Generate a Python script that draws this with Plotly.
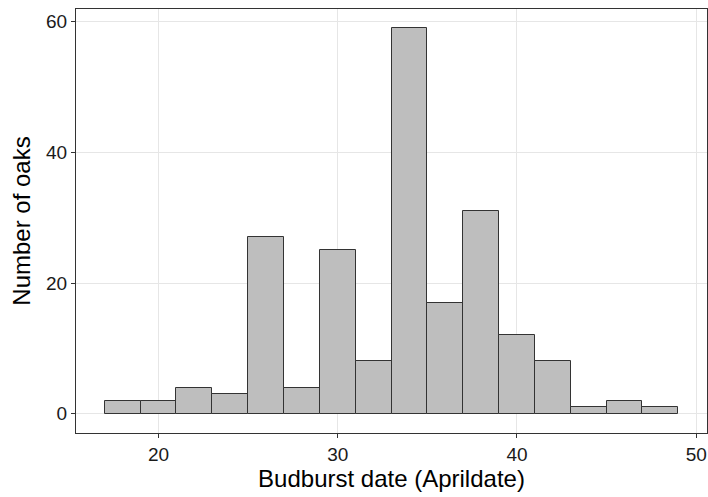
import plotly.graph_objects as go

bin_starts = [17, 19, 21, 23, 25, 27, 29, 31, 33, 35, 37, 39, 41, 43, 45, 47]
bin_width = 2
counts = [2, 2, 4, 3, 27, 4, 25, 8, 59, 17, 31, 12, 8, 1, 2, 1]
x_ticks = [20, 30, 40, 50]
y_ticks = [0, 20, 40, 60]

centers = [s + bin_width / 2 for s in bin_starts]

fig = go.Figure(go.Bar(
    x=centers, y=counts, width=[bin_width] * len(centers),
    marker=dict(color="#BEBEBE", line=dict(color="#333333", width=1)),
    hoverinfo="x+y",
))

font = "Liberation Sans, Arial, sans-serif"
fig.update_layout(
    width=708, height=497,
    margin=dict(l=76, r=1, t=9, b=64),
    plot_bgcolor="white", paper_bgcolor="white",
    showlegend=False,
    font=dict(family=font, color="black"),
    bargap=0,
)
fig.update_xaxes(
    range=[15.4, 50.6], tickvals=x_ticks, ticktext=[str(v) for v in x_ticks],
    showgrid=True, gridcolor="#E6E6E6", gridwidth=1, zeroline=False,
    showline=True, linecolor="#333333", linewidth=1, mirror=True,
    ticks="outside", ticklen=4, tickcolor="#333333", tickwidth=1,
    tickfont=dict(size=19, color="#1A1A1A", family=font),
    title=dict(text="Budburst date (Aprildate)", font=dict(size=24, color="black", family=font), standoff=5),
)
fig.update_yaxes(
    range=[-2.95, 61.95], tickvals=y_ticks, ticktext=[str(v) for v in y_ticks],
    showgrid=True, gridcolor="#E6E6E6", gridwidth=1, zeroline=False,
    showline=True, linecolor="#333333", linewidth=1, mirror=True,
    ticks="outside", ticklen=4, tickcolor="#333333", tickwidth=1,
    tickfont=dict(size=19, color="#1A1A1A", family=font),
    title=dict(text="Number of oaks", font=dict(size=24, color="black", family=font), standoff=8),
)

fig.write_html("out.html")
